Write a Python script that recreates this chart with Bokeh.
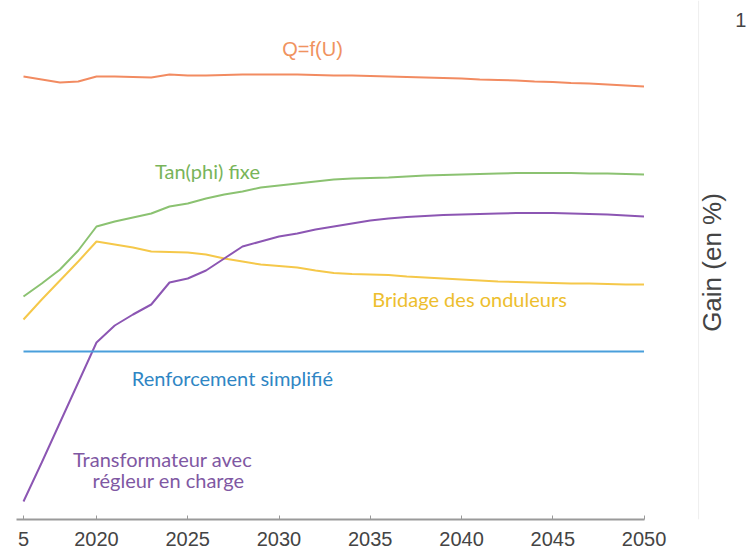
import math
from bokeh.plotting import figure
from bokeh.models import Label, FixedTicker, Range1d, Span
from bokeh.embed import file_html
from bokeh.resources import INLINE

years = list(range(2016, 2051))

q_fu = [27.5, 27.2, 26.9, 27.0, 27.5, 27.5, 27.45, 27.4, 27.7, 27.6, 27.6, 27.65, 27.7, 27.7, 27.7,
        27.7, 27.65, 27.6, 27.6, 27.55, 27.5, 27.45, 27.4, 27.35, 27.3, 27.2, 27.15, 27.1, 27.0,
        26.95, 26.85, 26.8, 26.7, 26.6, 26.5]
tan_phi = [5.5, 6.8, 8.2, 10.1, 12.5, 13.0, 13.4, 13.8, 14.5, 14.8, 15.3, 15.7, 16.0, 16.4, 16.6,
           16.8, 17.0, 17.2, 17.3, 17.35, 17.4, 17.5, 17.6, 17.65, 17.7, 17.75, 17.8, 17.85, 17.85,
           17.85, 17.85, 17.8, 17.8, 17.75, 17.7]
bridage = [3.2, 5.2, 7.1, 9.0, 11.0, 10.7, 10.4, 10.0, 9.95, 9.9, 9.7, 9.3, 9.0, 8.7, 8.55,
           8.4, 8.1, 7.85, 7.75, 7.7, 7.65, 7.5, 7.4, 7.3, 7.2, 7.1, 7.0, 6.95, 6.9,
           6.85, 6.8, 6.8, 6.75, 6.7, 6.7]
transfo = [-15.0, -11.1, -7.1, -3.1, 0.9, 2.6, 3.7, 4.7, 6.9, 7.3, 8.1, 9.3, 10.5, 11.0, 11.5,
           11.8, 12.2, 12.5, 12.8, 13.1, 13.3, 13.45, 13.55, 13.65, 13.7, 13.75, 13.8, 13.85, 13.85,
           13.85, 13.8, 13.75, 13.7, 13.6, 13.5]
renforcement = [0.0] * len(years)

tick_years = [2016, 2020, 2025, 2030, 2035, 2040, 2045, 2050]
tick_labels = {2016: "5", 2020: "2020", 2025: "2025", 2030: "2030", 2035: "2035",
               2040: "2040", 2045: "2045", 2050: "2050"}

p = figure(width=747, height=553, output_backend="svg", toolbar_location=None,
           min_border_left=0, min_border_top=0, min_border_right=0, min_border_bottom=34,
           x_range=Range1d(2014.74, 2055.67), y_range=Range1d(-16.8, 35.1))
p.outline_line_color = None
p.grid.visible = False
p.yaxis.visible = False
p.background_fill_color = "white"
p.border_fill_color = "white"

p.add_layout(Span(location=2052.99, dimension="height", line_color="#eeeeee", line_width=1))

p.line(years, q_fu, line_color="#F28B61", line_width=2)
p.line(years, tan_phi, line_color="#8BC271", line_width=2)
p.line(years, bridage, line_color="#F5C84A", line_width=2)
p.line(years, transfo, line_color="#8C56B3", line_width=2)
p.line(years, renforcement, line_color="#4A9FDB", line_width=2.2)

ax = p.xaxis[0]
ax.ticker = FixedTicker(ticks=tick_years)
ax.major_label_overrides = tick_labels
ax.bounds = (2015.62, 2050)
ax.axis_line_color = "#9a9a9a"
ax.axis_line_width = 2
ax.major_tick_line_color = "#9a9a9a"
ax.major_tick_in = 4
ax.major_tick_out = 0
ax.minor_tick_line_color = None
ax.major_label_text_font = "Liberation Sans"
ax.major_label_text_font_size = "20px"
ax.major_label_text_color = "#444444"
ax.major_label_standoff = 12

def lab(x, y, t, color, size, font="Lato", angle=0.0, align="center"):
    p.add_layout(Label(x=x, y=y, text=t, text_color=color, text_font_size=size,
                       text_font=font, text_align=align, text_baseline="middle", angle=angle))

lab(2031.84, 30.3, "Q=f(U)", "#F0935F", "20px", font="Liberation Sans")
lab(2026.08, 18.1, "Tan(phi) fixe", "#78B45A", "20px")
lab(2040.44, 5.3, "Bridage des onduleurs", "#EDBE2E", "20px")
lab(2027.45, -2.6, "Renforcement simplifié", "#2F86C4", "20px")
lab(2023.62, -10.7, "Transformateur avec", "#7F58A3", "20px")
lab(2023.95, -12.8, "régleur en charge", "#7F58A3", "20px")

lab(2053.75, 8.9, "Gain (en %)", "#444444", "26px", font="Liberation Sans", angle=math.pi / 2)
lab(2055.3, 33.2, "1", "#444444", "20px", font="Liberation Sans")

open("out.html", "w").write(file_html(p, INLINE))
